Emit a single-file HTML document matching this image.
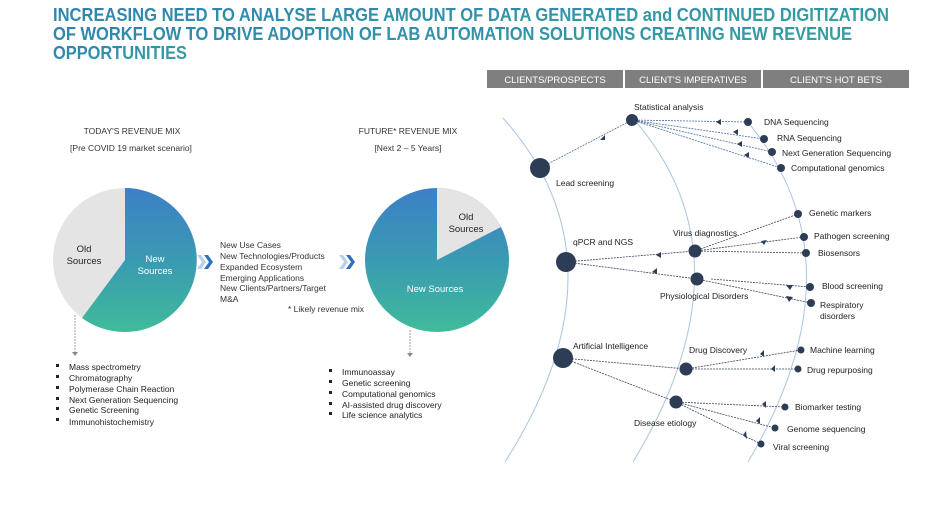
<!DOCTYPE html>
<html><head><meta charset="utf-8"><style>
html,body{margin:0;padding:0;background:#fff;}
svg{display:block;font-family:"Liberation Sans",sans-serif;}
</style></head><body>
<svg width="940" height="510" viewBox="0 0 940 510" xmlns="http://www.w3.org/2000/svg">
<defs>
<linearGradient id="tg" x1="0" y1="0" x2="1" y2="1"><stop offset="0" stop-color="#2c7db4"/><stop offset="1" stop-color="#38a79c"/></linearGradient>
<linearGradient id="pg" x1="0" y1="0" x2="0" y2="1"><stop offset="0" stop-color="#3d7fc6"/><stop offset="0.55" stop-color="#3a9db0"/><stop offset="1" stop-color="#3fbc9a"/></linearGradient>
<marker id="ar" viewBox="0 0 10 10" refX="5" refY="5" markerWidth="6" markerHeight="6" orient="auto"><path d="M0,0 L10,5 L0,10z" fill="#2d3d55"/></marker>
</defs>
<g font-weight="bold" font-size="18" fill="url(#tg)">
<text x="53" y="21" textLength="836" lengthAdjust="spacingAndGlyphs">INCREASING NEED TO ANALYSE LARGE AMOUNT OF DATA GENERATED and CONTINUED DIGITIZATION</text>
<text x="53" y="40" textLength="799" lengthAdjust="spacingAndGlyphs">OF WORKFLOW TO DRIVE ADOPTION OF LAB AUTOMATION SOLUTIONS CREATING NEW REVENUE</text>
<text x="53" y="59" textLength="134" lengthAdjust="spacingAndGlyphs">OPPORTUNITIES</text>
</g>
<g fill="#7f7f7f"><rect x="487" y="70" width="136" height="18"/><rect x="625" y="70" width="136" height="18"/><rect x="763" y="70" width="146" height="18"/></g>
<g fill="#fff" font-size="9.5" text-anchor="middle"><text x="555" y="83">CLIENTS/PROSPECTS</text><text x="693" y="83">CLIENT'S IMPERATIVES</text><text x="836" y="83">CLIENT'S HOT BETS</text></g>

<g font-size="8.5" fill="#333" text-anchor="middle">
<text x="132" y="134">TODAY'S REVENUE MIX</text><text x="131" y="151">[Pre COVID 19 market scenario]</text>
<text x="408" y="134">FUTURE* REVENUE MIX</text><text x="408" y="151">[Next 2 – 5 Years]</text>
</g>
<!-- left pie -->
<circle cx="125" cy="260" r="72" fill="#e4e4e4"/>
<path d="M125,260 L125,188 A72,72 0 1 1 82,318 Z" fill="url(#pg)"/>
<g font-size="9.5" text-anchor="middle"><text x="84" y="252" fill="#222">Old</text><text x="84" y="264" fill="#222">Sources</text>
<text x="155" y="262" fill="#fff">New</text><text x="155" y="274" fill="#fff">Sources</text></g>
<!-- right pie -->
<circle cx="437" cy="260" r="72" fill="url(#pg)"/>
<path d="M437,260 L437,188 A72,72 0 0 1 501,227 Z" fill="#e4e4e4"/>
<g font-size="9.5" text-anchor="middle"><text x="466" y="220" fill="#222">Old</text><text x="466" y="232" fill="#222">Sources</text>
<text x="435" y="292" fill="#fff">New Sources</text></g>
<!-- chevrons -->
<path d="M197,255 l4,0 l5,7 l-5,7 l-4,0 l5,-7z" fill="#b8d0ec"/><path d="M204,255 l4,0 l5,7 l-5,7 l-4,0 l5,-7z" fill="#2f6fc0"/>
<path d="M339,255 l4,0 l5,7 l-5,7 l-4,0 l5,-7z" fill="#b8d0ec"/><path d="M346,255 l4,0 l5,7 l-5,7 l-4,0 l5,-7z" fill="#2f6fc0"/>
<g font-size="8.5" fill="#333"><text x="220" y="248">New Use Cases</text><text x="220" y="259">New Technologies/Products</text><text x="220" y="270">Expanded Ecosystem</text><text x="220" y="281">Emerging Applications</text><text x="220" y="291">New Clients/Partners/Target</text><text x="220" y="302">M&amp;A</text>
<text x="288" y="312">* Likely revenue mix</text></g>
<g stroke="#888" stroke-dasharray="2,1" stroke-width="0.8"><line x1="75" y1="315" x2="75" y2="352"/><line x1="410" y1="330" x2="410" y2="353"/></g>
<path d="M72,352 l6,0 l-3,4z M407,353 l6,0 l-3,4z" fill="#888"/>
<g font-size="8.5" fill="#222">
<text x="69" y="370">Mass spectrometry</text><text x="69" y="381">Chromatography</text><text x="69" y="392">Polymerase Chain Reaction</text><text x="69" y="403">Next Generation Sequencing</text><text x="69" y="413">Genetic Screening</text><text x="69" y="425">Immunohistochemistry</text>
<text x="342" y="375">Immunoassay</text><text x="342" y="386">Genetic screening</text><text x="342" y="397">Computational genomics</text><text x="342" y="408">AI-assisted drug discovery</text><text x="342" y="418">Life science analytics</text>
</g>
<g fill="#222"><rect x="56" y="364" width="3" height="3"/><rect x="56" y="375" width="3" height="3"/><rect x="56" y="386" width="3" height="3"/><rect x="56" y="397" width="3" height="3"/><rect x="56" y="407" width="3" height="3"/><rect x="56" y="418" width="3" height="3"/>
<rect x="329" y="369" width="3" height="3"/><rect x="329" y="380" width="3" height="3"/><rect x="329" y="391" width="3" height="3"/><rect x="329" y="402" width="3" height="3"/><rect x="329" y="412" width="3" height="3"/></g>

<!-- arcs -->
<g fill="none" stroke="#a9c4e0" stroke-width="1">
<path d="M503,118 Q632,262 505,462"/>
<path d="M637,123 Q754,262 633,462"/>
<path d="M746,120 Q866,262 748,462"/>
</g>
<!-- lines -->
<g stroke="#4a6fa8" stroke-width="0.8" stroke-dasharray="2,1" fill="none">
<line x1="540" y1="168" x2="632" y2="120"/>
<line x1="632" y1="120" x2="748" y2="122"/><line x1="632" y1="120" x2="764" y2="139"/><line x1="632" y1="120" x2="772" y2="152"/><line x1="632" y1="120" x2="781" y2="168"/>
</g>
<g stroke="#3a4658" stroke-width="0.8" stroke-dasharray="2,1" fill="none">
<line x1="566" y1="262" x2="695" y2="251"/><line x1="566" y1="262" x2="697" y2="279"/>
<line x1="695" y1="251" x2="798" y2="214"/><line x1="695" y1="251" x2="804" y2="237"/><line x1="695" y1="251" x2="806" y2="253"/>
<line x1="711" y1="279" x2="810" y2="287"/><line x1="697" y1="279" x2="811" y2="303"/>
<line x1="563" y1="358" x2="686" y2="369"/><line x1="563" y1="358" x2="676" y2="402"/>
<line x1="686" y1="369" x2="801" y2="350"/><line x1="686" y1="369" x2="798" y2="369"/>
<line x1="676" y1="402" x2="785" y2="407"/><line x1="676" y1="402" x2="775" y2="428"/><line x1="676" y1="402" x2="761" y2="444"/>
</g>
<g fill="#2d3d55">
<path d="M600,140 l5,-5 l0,5z"/><path d="M716,122 l5,-3 l0,6z"/><path d="M733,132 l5,-3 l0,6z"/><path d="M737,144 l5,-3 l0,6z"/><path d="M744,155 l5,-3 l0,6z"/>
<path d="M656,255 l5,-3 l0,6z"/><path d="M652,272 l5,-4 l0,6z"/><path d="M761,241 l6,-1 l-3,5z"/><path d="M786,285 l7,0 l-3,5z"/><path d="M786,296 l7,1 l-4,5z"/>
<path d="M760,354 l4,-4 l0,7z"/><path d="M771,369 l4,-4 l0,7z"/><path d="M762,404 l4,-3 l0,7z"/><path d="M756,421 l4,-4 l0,7z"/><path d="M743,435 l3,-4 l1,8z"/>
<circle cx="540" cy="168" r="10"/><circle cx="632" cy="120" r="6"/>
<circle cx="748" cy="122" r="4"/><circle cx="764" cy="139" r="4"/><circle cx="772" cy="152" r="4"/><circle cx="781" cy="168" r="4"/>
<circle cx="566" cy="262" r="10"/><circle cx="695" cy="251" r="6.5"/><circle cx="697" cy="279" r="6.5"/>
<circle cx="798" cy="214" r="4"/><circle cx="804" cy="237" r="4"/><circle cx="806" cy="253" r="4"/><circle cx="810" cy="287" r="4"/><circle cx="811" cy="303" r="4"/>
<circle cx="563" cy="358" r="10"/><circle cx="686" cy="369" r="6.5"/><circle cx="676" cy="402" r="6.5"/>
<circle cx="801" cy="350" r="3.5"/><circle cx="798" cy="369" r="3.5"/><circle cx="785" cy="407" r="3.5"/><circle cx="775" cy="428" r="3.5"/><circle cx="761" cy="444" r="3.5"/>
</g>
<g font-size="8.5" fill="#222">
<text x="634" y="110">Statistical analysis</text><text x="556" y="186">Lead screening</text>
<text x="764" y="125">DNA Sequencing</text><text x="777" y="141">RNA Sequencing</text><text x="782" y="156">Next Generation Sequencing</text><text x="791" y="171">Computational genomics</text>
<text x="573" y="245">qPCR and NGS</text><text x="673" y="236">Virus diagnostics</text><text x="660" y="299">Physiological Disorders</text>
<text x="809" y="216">Genetic markers</text><text x="814" y="239">Pathogen screening</text><text x="818" y="256">Biosensors</text><text x="822" y="289">Blood screening</text><text x="820" y="308">Respiratory</text><text x="820" y="319">disorders</text>
<text x="573" y="349">Artificial Intelligence</text><text x="689" y="353">Drug Discovery</text><text x="634" y="426">Disease etiology</text>
<text x="810" y="353">Machine learning</text><text x="807" y="373">Drug repurposing</text><text x="795" y="410">Biomarker testing</text><text x="787" y="432">Genome sequencing</text><text x="773" y="450">Viral screening</text>
</g>
</svg>
</body></html>
